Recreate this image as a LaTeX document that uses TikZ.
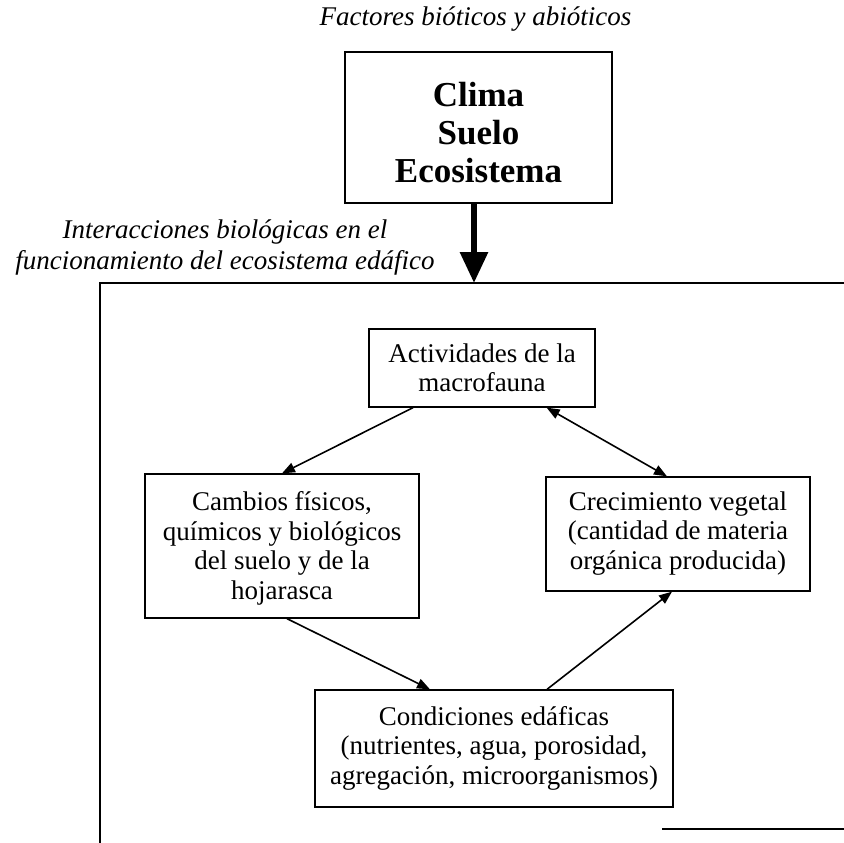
\documentclass[tikz,border=0pt]{standalone}
\usepackage{fontspec}
\setmainfont{Liberation Serif}
\usetikzlibrary{arrows.meta}
\newcommand{\tline}[1]{\smash{#1}}
\begin{document}
\begin{tikzpicture}[x=1pt,y=-1pt,
  boxline/.style={line width=1.3pt},
  box/.style={draw, line width=1.3pt, inner sep=0pt, align=center,
    font=\fontsize{27}{29.5}\selectfont},
  bigtext/.style={font=\bfseries\fontsize{35}{38}\selectfont},
  itlabel/.style={font=\itshape\fontsize{27}{31}\selectfont, inner sep=0pt},
  link/.style={line width=1.6pt, -{Triangle[length=13pt,width=10pt]}},
  dlink/.style={line width=1.6pt, {Triangle[length=13pt,width=10pt]}-{Triangle[length=13pt,width=10pt]}},
  thick arrow/.style={line width=6pt, -{Triangle[length=31pt,width=27pt]}}]
\fill[white] (0,0) rectangle (844,843);
\useasboundingbox (0,0) rectangle (844,843);

% title
\node[itlabel, anchor=base] (title) at (475.5,26) {Factores bióticos y abióticos};

% top box
\node[box, bigtext, minimum width=267pt, minimum height=151pt] (top) at (478.5,127.5)
  {\rule{0pt}{33pt}\tline{Clima}\\\tline{Suelo}\\\tline{Ecosistema}};

% side label
\node[itlabel, align=center] (lbl) at (225,244.4)
  {\rule{0pt}{18.2pt}\tline{Interacciones biológicas en el}\\\tline{funcionamiento del ecosistema edáfico}};

% big frame
\coordinate (bbtl) at (100,283);
\coordinate (bbtr) at (844,283);
\coordinate (bbbl) at (100,843);
\coordinate (bbbr) at (844,829);
\coordinate (bbbm) at (662,829);
\draw[boxline] (bbtr) -- (bbtl) -- (bbbl);
\draw[boxline] (bbbm) -- (bbbr);

% thick arrow
\draw[thick arrow] ([xshift=-4.5pt]top.south) -- ([xshift=-4.5pt]top.south |- bbtl);

% inner boxes
\node[box, minimum width=226pt, minimum height=78pt] (act) at (482,368)
  {\rule{0pt}{18pt}\tline{Actividades de la}\\\tline{macrofauna}};
\node[box, minimum width=274pt, minimum height=144pt] (camb) at (282,546)
  {\rule{0pt}{18pt}\tline{Cambios físicos,}\\\tline{químicos y biológicos}\\\tline{del suelo y de la}\\\tline{hojarasca}};
\node[box, minimum width=264pt, minimum height=114pt] (crec) at (678,534)
  {\rule{0pt}{18pt}\tline{Crecimiento vegetal}\\\tline{(cantidad de materia}\\\tline{orgánica producida)}\rule[-7pt]{0pt}{7pt}};
\node[box, minimum width=358pt, minimum height=117pt] (cond) at (494,748.5)
  {\rule{0pt}{18pt}\tline{Condiciones edáficas}\\\tline{(nutrientes, agua, porosidad,}\\\tline{agregación, microorganismos)}\rule[-6pt]{0pt}{6pt}};

% connectors
\draw[link] ([xshift=-69pt]act.south) -- (camb.north);
\draw[dlink] ([xshift=-49pt]act.south east) -- ([xshift=-11pt]crec.north);
\draw[link] ([xshift=5pt]camb.south) -- ([xshift=-64pt]cond.north);
\draw[link] ([xshift=53pt]cond.north) -- ([xshift=-6pt]crec.south);
\end{tikzpicture}
\end{document}
